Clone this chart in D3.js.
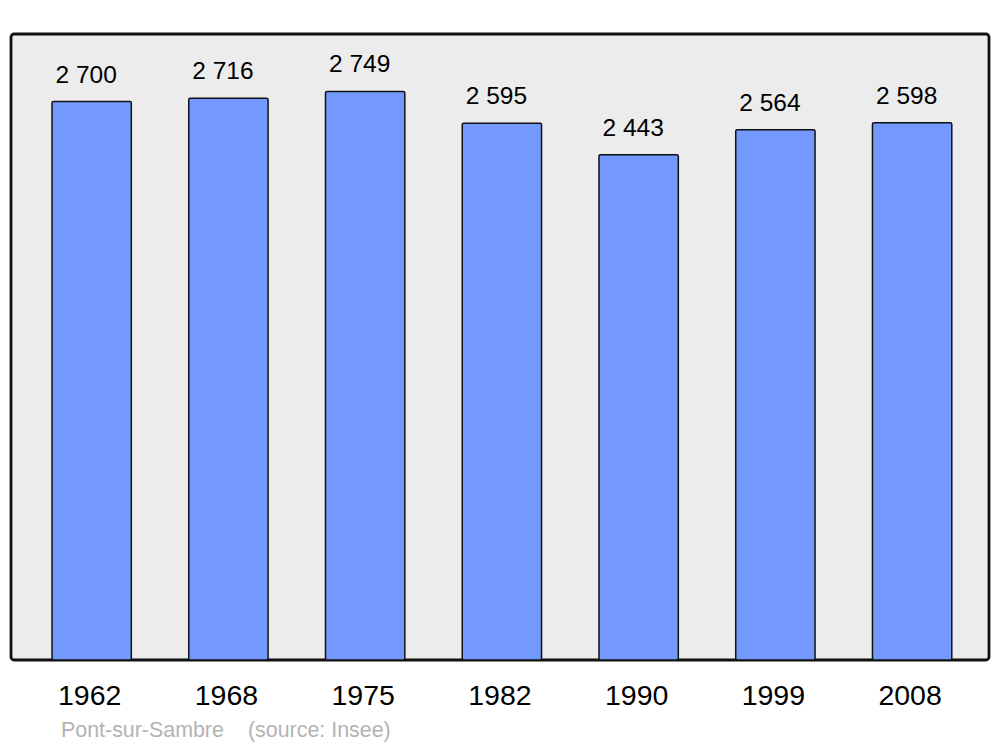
<!DOCTYPE html>
<html>
<head>
<meta charset="utf-8">
<script src="https://cdn.jsdelivr.net/npm/d3@7.9.0/dist/d3.min.js"></script>
<style>
  body { margin: 0; background: #fff; }
  svg { display: block; font-family: "Liberation Sans", Arial, sans-serif; }
</style>
</head>
<body>
<svg id="chart" width="1000" height="747"></svg>
<script>
const years = ['1962', '1968', '1975', '1982', '1990', '1999', '2008'];
const population = [2700, 2716, 2749, 2595, 2443, 2564, 2598];
const labels = ['2 700', '2 716', '2 749', '2 595', '2 443', '2 564', '2 598'];
const town = 'Pont-sur-Sambre';
const source = '(source: Insee)';

const svg = d3.select('#chart');

// plot frame
const frame = { left: 11, right: 989, top: 34, bottom: 660 };

svg.append('rect')
  .attr('x', frame.left)
  .attr('y', frame.top)
  .attr('width', frame.right - frame.left)
  .attr('height', frame.bottom - frame.top)
  .attr('rx', 3)
  .attr('fill', '#ececec')
  .attr('stroke', '#111')
  .attr('stroke-width', 2.8);

let x = d3.scaleBand()
  .domain(years)
  .range([23.3, 980.5])
  .paddingInner(0.42)
  .paddingOuter(0.21);

let y = d3.scaleLinear()
  .domain([0, d3.max(population) * 1.1])
  .range([frame.bottom, frame.top]);

const data = years.map((yr, i) => ({ year: yr, value: population[i], label: labels[i] }));

svg.selectAll('rect.bar')
  .data(data)
  .join('rect')
  .attr('class', 'bar')
  .attr('x', d => x(d.year))
  .attr('y', d => y(d.value) + 0.5)
  .attr('width', x.bandwidth())
  .attr('height', d => frame.bottom - y(d.value) - 0.5)
  .attr('rx', 1.5)
  .attr('fill', '#7399ff')
  .attr('stroke', '#111')
  .attr('stroke-width', 1.5);

// value labels
svg.selectAll('text.val')
  .data(data)
  .join('text')
  .attr('class', 'val')
  .attr('x', d => x(d.year) + x.bandwidth() / 2 - 5.5)
  .attr('y', d => y(d.value) - 18.5)
  .attr('text-anchor', 'middle')
  .attr('font-size', 24.5)
  .attr('fill', '#000')
  .text(d => d.label);

// year labels
svg.selectAll('text.yr')
  .data(data)
  .join('text')
  .attr('class', 'yr')
  .attr('x', d => x(d.year) + x.bandwidth() / 2 - 2)
  .attr('y', 705)
  .attr('text-anchor', 'middle')
  .attr('font-size', 28.5)
  .attr('fill', '#000')
  .text(d => d.year);

// footer
svg.append('text')
  .attr('x', 61)
  .attr('y', 737)
  .attr('font-size', 21.4)
  .attr('fill', '#b3b3b3')
  .text(town);

svg.append('text')
  .attr('x', 248)
  .attr('y', 737)
  .attr('font-size', 21.4)
  .attr('fill', '#b3b3b3')
  .text(source);
</script>
</body>
</html>
